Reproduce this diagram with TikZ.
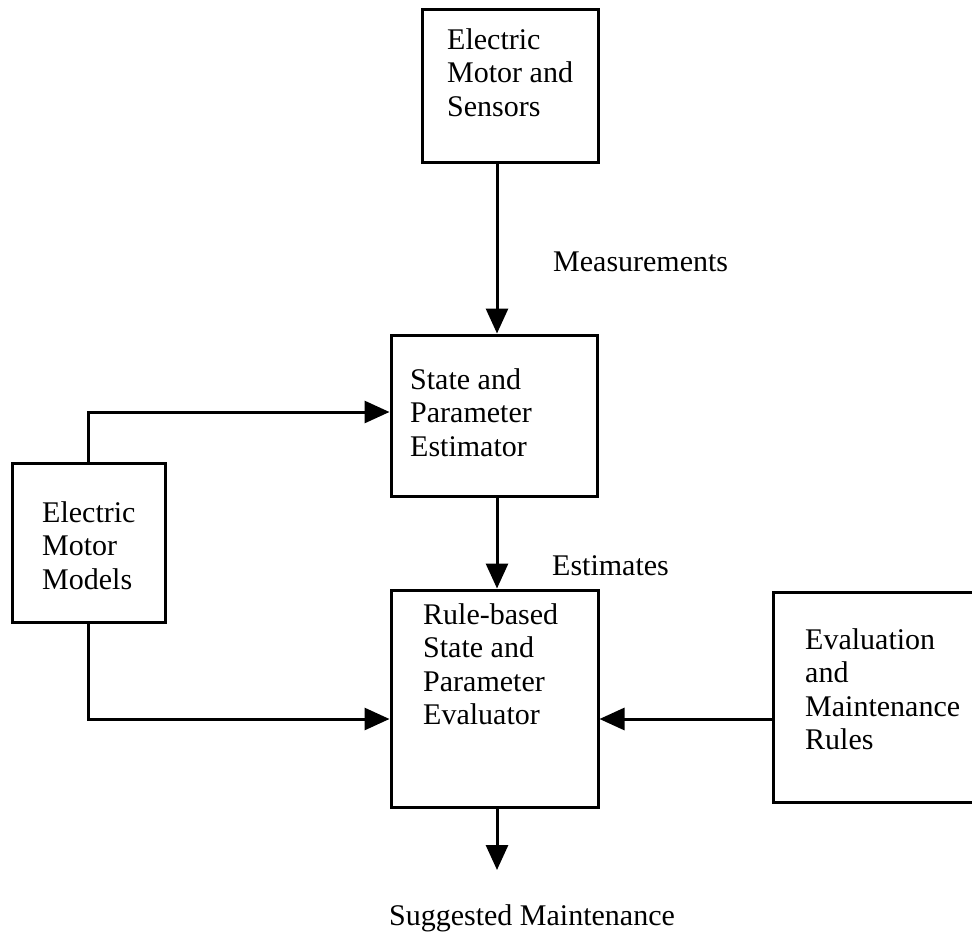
\documentclass[tikz,border=0pt]{standalone}
\usepackage{fontspec}
\setmainfont{Liberation Serif}
\usetikzlibrary{arrows.meta}
\begin{document}
\begin{tikzpicture}[x=1pt,y=-1pt,
  box/.style={draw,line width=3pt,inner sep=0pt,rectangle},
  lbl/.style={inner sep=0pt,align=left,font=\fontsize{30}{33.5}\selectfont},
  arr/.style={line width=3pt,-{Triangle[width=22pt,length=25pt]}},
  conn/.style={line width=3pt}]
\clip (0,0) rectangle (972,942);
\fill[white] (0,0) rectangle (972,942);
% boxes
\node[box,minimum width=176pt,minimum height=152pt] (T) at (510,86) {};
\node[box,minimum width=206pt,minimum height=161pt] (S) at (494,415.5) {};
\node[box,minimum width=153pt,minimum height=159pt] (M) at (88.5,542.5) {};
\node[box,minimum width=207pt,minimum height=217pt] (R) at (494.5,698.5) {};
\node[box,minimum width=220pt,minimum height=210pt] (E) at (883,697) {};
% texts
\node[lbl,anchor=north west] (tT) at (447,28) {Electric\\Motor and\\Sensors};
\node[lbl,anchor=north west] (tS) at (410,368) {State and\\Parameter\\Estimator};
\node[lbl,anchor=north west] (tM) at (42,501) {Electric\\Motor\\Models};
\node[lbl,anchor=north west] (tR) at (423,603) {Rule-based\\State and\\Parameter\\Evaluator};
\node[lbl,anchor=north west] (tE) at (805,628) {Evaluation\\and\\Maintenance\\Rules};
\node[lbl,anchor=west] (meas) at (553,262) {Measurements};
\node[lbl,anchor=west] (est) at (552,566) {Estimates};
\node[lbl,anchor=base] (sugg) at (532,925) {Suggested Maintenance};
% helper coordinates
\coordinate (cx) at (497,0);
\coordinate (ya) at (0,412);
\coordinate (yb) at (0,719);
\coordinate (out) at (497,870);
% connectors
\draw[arr] (T.south -| cx) -- (S.north -| cx);
\draw[arr] (S.south -| cx) -- (R.north -| cx);
\draw[arr] (M.north) |- (S.west |- ya);
\draw[arr] (M.south) |- (R.west |- yb);
\draw[arr] (E.west |- yb) -- (R.east |- yb);
\draw[arr] (R.south -| cx) -- (out);
\end{tikzpicture}
\end{document}
